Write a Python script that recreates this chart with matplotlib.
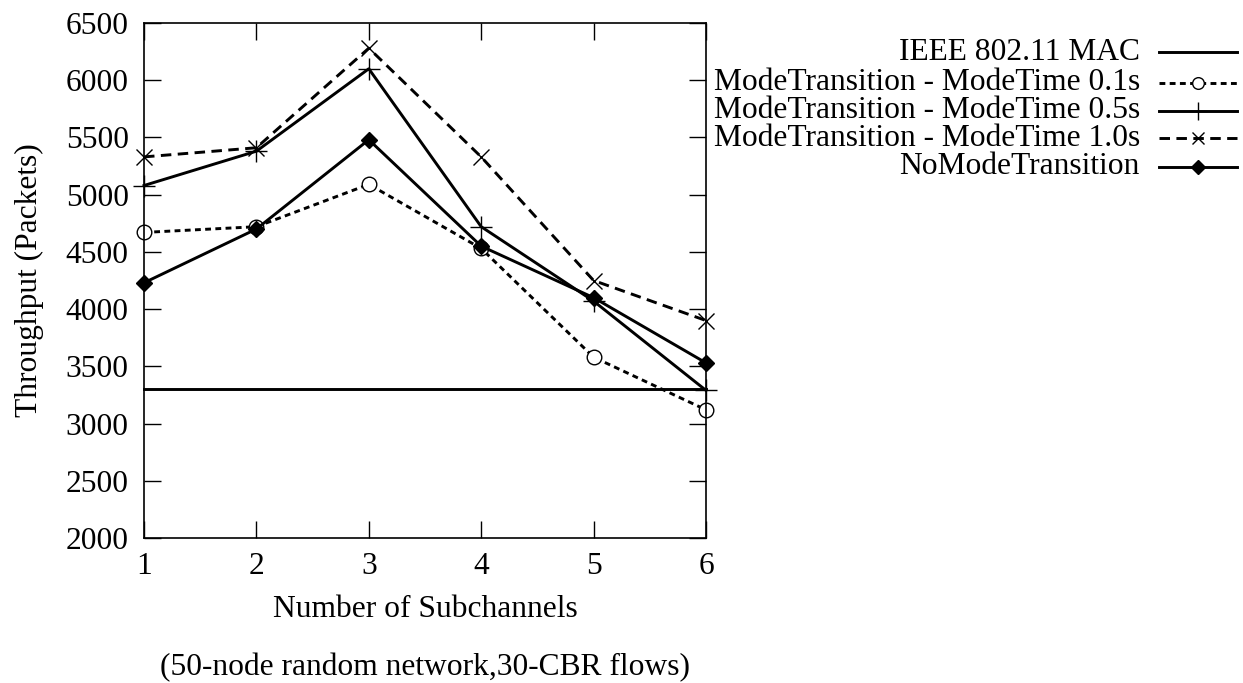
import numpy as np
import matplotlib.pyplot as plt
from matplotlib.lines import Line2D

plt.rcParams['font.family'] = ['Liberation Serif', 'DejaVu Serif']
plt.rcParams['font.size'] = 22.7

subchannels = [1, 2, 3, 4, 5, 6]
ieee_mac = [3300, 3300, 3300, 3300, 3300, 3300]
mode_01 = [4670, 4720, 5090, 4530, 3580, 3120]
mode_05 = [5080, 5380, 6100, 4720, 4070, 3290]
mode_10 = [5330, 5410, 6280, 5330, 4250, 3900]
no_mode = [4230, 4700, 5480, 4550, 4100, 3530]

labels = ['IEEE 802.11 MAC',
          'ModeTransition - ModeTime 0.1s',
          'ModeTransition - ModeTime 0.5s',
          'ModeTransition - ModeTime 1.0s',
          'NoModeTransition']

lw = 2.1
styles = [
    dict(color='black', lw=lw, ls='-', marker=None),
    dict(color='black', lw=lw, ls=(0, (2.0, 1.5)), marker='o', mfc='white', mec='black', ms=10.5, mew=1),
    dict(color='black', lw=lw, ls='-', marker='+', ms=16, mew=1),
    dict(color='black', lw=lw, ls=(0, (3.6, 2.2)), marker='x', ms=11, mew=1),
    dict(color='black', lw=lw, ls='-', marker='D', mfc='black', mec='black', ms=8.5),
]
series = [ieee_mac, mode_01, mode_05, mode_10, no_mode]

fig = plt.figure(figsize=(12.43, 6.83), dpi=100)
ax = fig.add_axes([144 / 1243, 1 - 538 / 683, (706 - 144) / 1243, (538 - 23) / 683])

for s, st in zip(series, styles):
    ax.plot(subchannels, s, clip_on=False, **st)

ax.set_xlim(1, 6)
ax.set_ylim(2000, 6500)
ax.set_xticks(subchannels)
ax.set_yticks(np.arange(2000, 6501, 500))
ax.tick_params(direction='in', length=12, width=1, top=True, right=True)
ax.tick_params(axis='y', pad=11)
ax.tick_params(axis='x', pad=10)
for sp in ax.spines.values():
    sp.set_linewidth(1.2)

ax.set_xlabel('Number of Subchannels', labelpad=10)
ax.set_ylabel('Throughput (Packets)', labelpad=16)
fig.text((144 + 706) / 2 / 1243, 1 - 668 / 683, '(50-node random network,30-CBR flows)',
         ha='center', va='center')

# legend drawn gnuplot-style: right-aligned text with sample to the right
row_y = [52, 83, 111, 138, 167]
for lab, st, y in zip(labels, styles, row_y):
    yf = 1 - y / 683
    fig.text(1140 / 1243, yf, lab, ha='right', va='center')
    line = Line2D([1159 / 1243, 1237 / 1243], [yf, yf], transform=fig.transFigure,
                  color='black', lw=lw, ls=st['ls'])
    fig.add_artist(line)
    if st['marker'] is not None:
        mk = Line2D([1198 / 1243], [yf], transform=fig.transFigure, ls='none',
                    marker=st['marker'], color='black',
                    mfc=st.get('mfc', 'black'), mec=st.get('mec', 'black'),
                    ms=st['ms'] * 0.8, mew=st.get('mew', 1))
        fig.add_artist(mk)

fig.savefig('out.png', dpi=100)
